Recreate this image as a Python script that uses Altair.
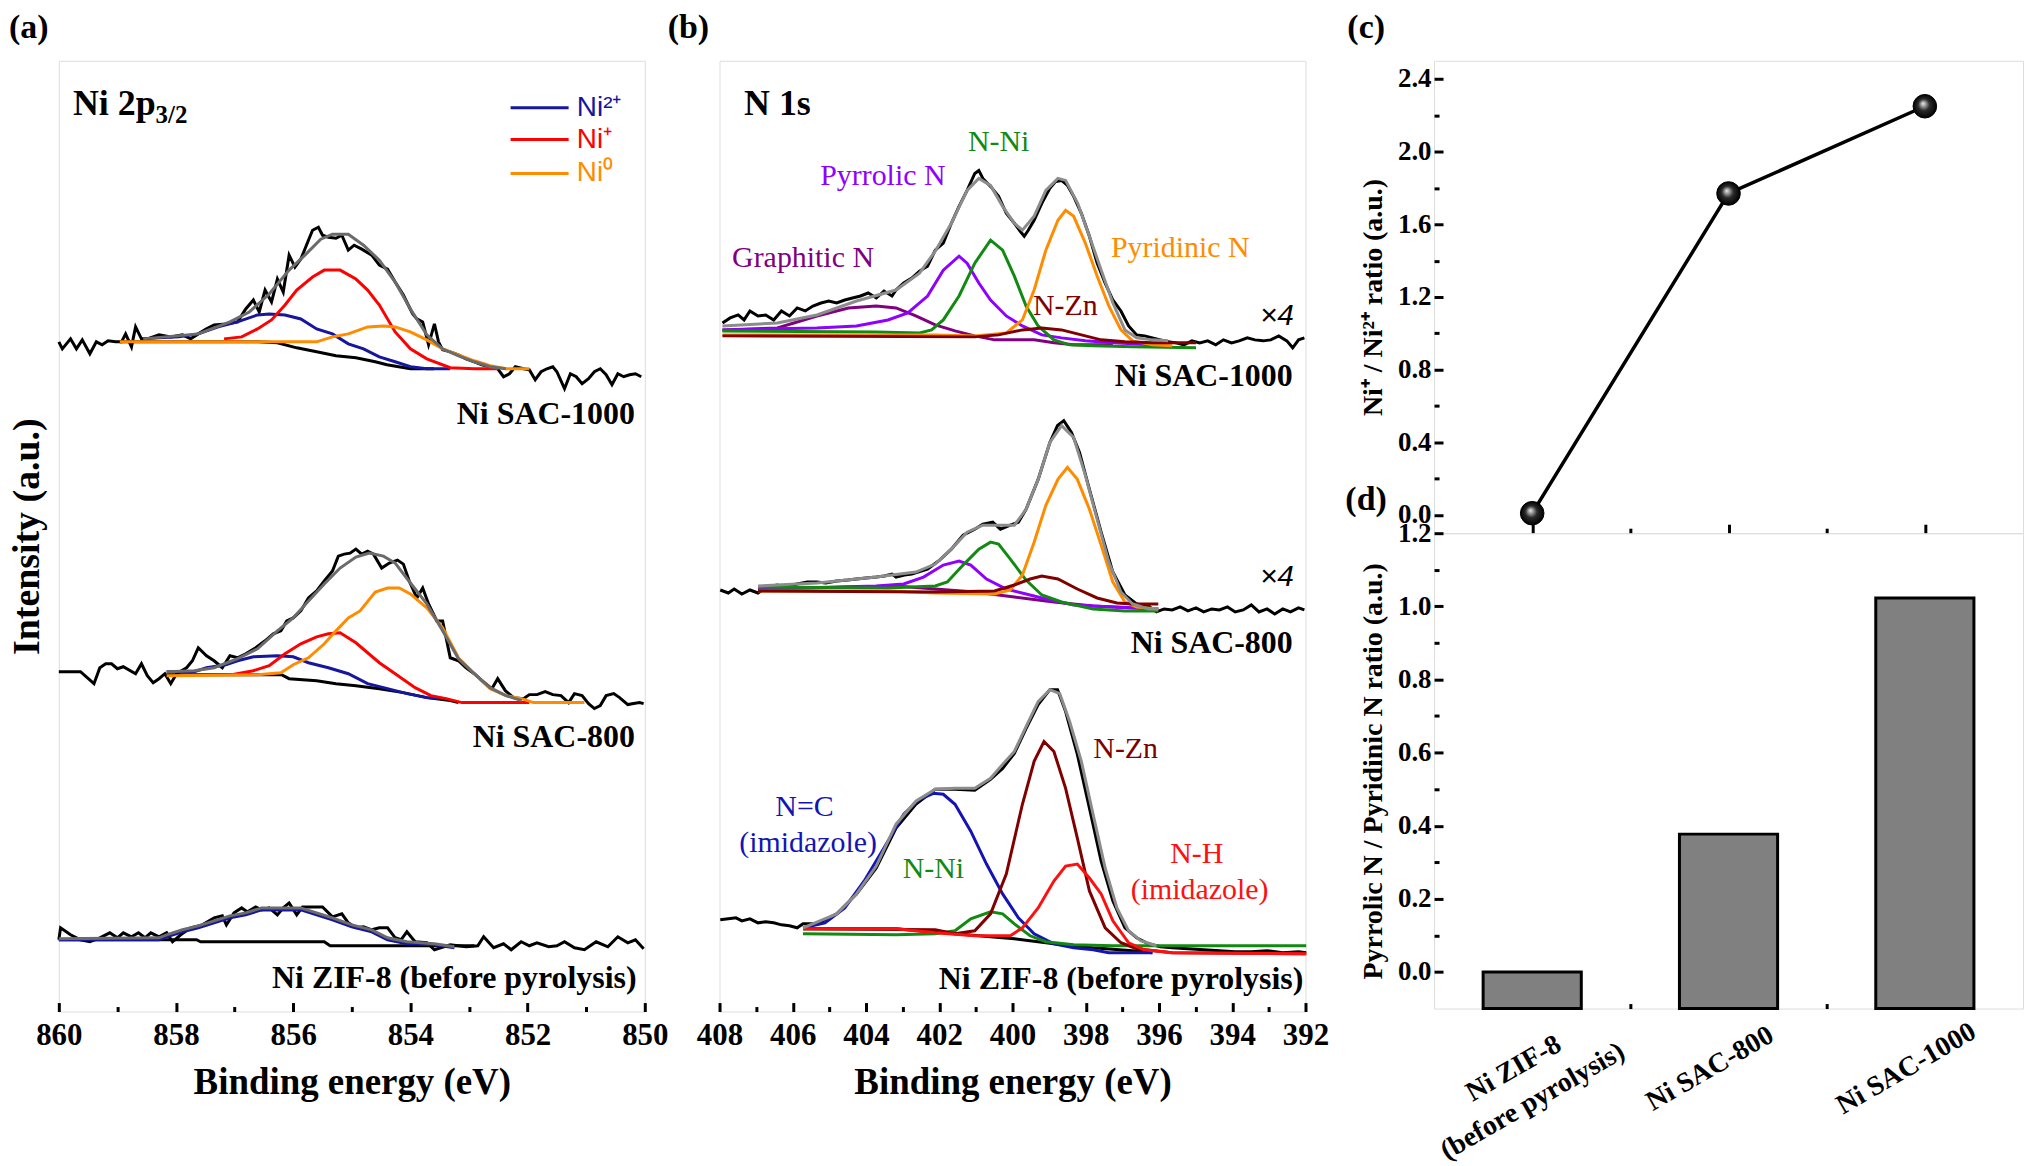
import json
import altair as alt
import pandas as pd

SERIF = "Liberation Serif"
SANS = "Liberation Sans"

# ---------------- Panel (a): Ni 2p3/2  (binding energy eV, intensity a.u.) ----------------
a1000_raw = [(860.0,672),(859.94,665),(859.80,675),(859.70,665),(859.60,674),(859.47,660),(859.36,672),(859.26,669),
             (859.16,673),(859.03,672),(858.93,672),(858.86,680),(858.76,667),(858.69,687),(858.59,675),(858.49,675),
             (858.29,679),(858.09,677),(857.89,679),(857.75,675),(857.62,680),(857.48,685),(857.35,689),(857.15,690),
             (856.95,692),(856.81,705),(856.68,714),(856.58,702),(856.48,724),(856.37,712),(856.27,735),(856.17,722),
             (856.07,759),(855.97,747),(855.87,755),(855.74,774),(855.67,784),(855.57,787),(855.50,779),(855.40,777),
             (855.27,776),(855.17,779),(855.06,764),(854.96,769),(854.83,765),(854.66,759),(854.53,749),(854.39,745),
             (854.26,732),(854.12,719),(854.02,707),(853.96,700),(853.89,695),(853.79,692),(853.69,669),(853.59,690),
             (853.52,672),(853.45,664),(853.32,662),(853.18,659),(853.05,655),(852.91,652),(852.78,649),(852.64,647),
             (852.51,645),(852.41,637),(852.31,640),(852.21,647),(852.07,645),(851.97,644),(851.87,634),(851.77,642),
             (851.67,645),(851.57,647),(851.50,642),(851.37,625),(851.27,640),(851.17,637),(851.07,630),(850.96,635),
             (850.86,642),(850.76,645),(850.66,639),(850.56,629),(850.46,640),(850.36,637),(850.26,639),(850.16,640),
             (850.06,637)]
a1000_bg = [(858.96,672),(856.6,672),(856.27,671),(855.94,666),(855.6,662),(855.27,658),(854.93,656),(854.6,652),
            (854.4,649),(854.0,645),(853.6,645)]
a1000_ni2 = [(858.56,675),(858.29,676),(857.95,677),(857.62,680),(857.28,687),(856.95,692),(856.61,699),(856.41,700),
             (856.14,699),(855.87,695),(855.6,685),(855.33,680),(855.06,670),(854.8,665),(854.53,657),(854.26,652),
             (854.0,647),(853.72,645),(853.32,645)]
a1000_ni1 = [(857.18,675),(856.88,677),(856.61,685),(856.37,694),(856.14,709),(855.94,724),(855.67,737),(855.47,744),
             (855.2,744),(854.93,735),(854.73,724),(854.53,709),(854.26,682),(854.0,665),(853.72,655),(853.32,646),
             (852.91,645),(852.5,645)]
a1000_ni0 = [(858.96,672),(855.6,672),(855.33,677),(855.06,680),(854.73,687),(854.46,688),(854.26,687),(854.0,682),
             (853.72,674),(853.45,665),(853.18,659),(852.91,653),(852.64,648),(852.37,645),(851.97,645)]
a1000_fit = [(858.56,675),(857.62,680),(857.08,692),(856.75,702),(856.41,720),(856.07,744),(855.8,759),(855.53,775),
             (855.33,780),(855.06,780),(854.8,769),(854.53,754),(854.26,732),(854.0,705),(853.72,679),(853.45,665),
             (853.18,658),(852.91,652),(852.64,647),(852.37,645)]

a800_raw = [(860.0,341),(859.63,341),(859.40,329),(859.30,345),(859.20,349),(859.10,349),(859.0,344),(858.9,346),
            (858.69,339),(858.59,349),(858.49,337),(858.39,330),(858.29,334),(858.19,339),(858.09,329),(857.99,339),
            (857.82,345),(857.72,352),(857.62,365),(857.48,357),(857.35,352),(857.21,345),(857.08,357),(856.95,355),
            (856.81,359),(856.64,365),(856.48,372),(856.34,379),(856.21,382),(856.11,392),(856.0,395),(855.87,402),
            (855.74,415),(855.60,422),(855.47,432),(855.33,442),(855.23,457),(855.13,459),(855.03,460),(854.93,464),
            (854.83,459),(854.73,462),(854.63,459),(854.49,445),(854.36,450),(854.22,453),(854.12,449),(854.02,432),
            (853.89,415),(853.79,425),(853.69,409),(853.55,392),(853.45,392),(853.32,355),(853.18,352),(853.05,345),
            (852.91,339),(852.78,332),(852.61,324),(852.51,334),(852.38,322),(852.24,315),(852.07,314),(851.97,318),
            (851.84,318),(851.70,321),(851.57,318),(851.43,317),(851.30,310),(851.2,319),(851.07,317),(850.96,309),
            (850.86,304),(850.76,307),(850.66,317),(850.53,319),(850.43,315),(850.29,308),(850.19,309),(850.09,310),
            (850.02,309)]
a800_bg = [(858.16,338),(856.2,338),(856.07,334),(855.6,332),(855.27,329),(854.93,327),(854.53,324),(854.12,320),
           (853.72,315),(853.32,312),(853.18,310)]
a800_ni2 = [(858.16,341),(857.69,341),(857.48,345),(857.15,348),(856.95,352),(856.68,356),(856.27,357),(856.0,356),
            (855.74,350),(855.4,345),(855.06,339),(854.73,329),(854.39,324),(854.06,319),(853.72,315),(853.52,314)]
a800_ni1 = [(857.05,338),(856.68,342),(856.41,347),(856.14,359),(855.87,369),(855.6,376),(855.4,379),(855.2,380),
            (854.93,370),(854.53,350),(854.26,339),(853.92,325),(853.65,317),(853.39,314),(853.12,310),(851.97,310)]
a800_ni0 = [(858.16,337),(856.61,338),(856.21,340),(856.0,348),(855.74,355),(855.47,369),(855.27,382),(855.06,395),
            (854.86,402),(854.6,421),(854.39,425),(854.19,425),(854.0,419),(853.72,405),(853.45,385),(853.18,355),
            (852.91,339),(852.64,324),(852.37,317),(852.1,314),(851.9,310),(851.03,310)]
a800_fit = [(858.16,341),(857.69,342),(857.35,345),(856.95,354),(856.61,364),(856.27,382),(856.0,395),(855.74,412),
            (855.47,429),(855.2,445),(854.93,456),(854.7,460),(854.46,457),(854.26,450),(854.0,430),(853.72,409),
            (853.45,382),(853.18,354),(852.91,339),(852.64,325),(852.37,317),(852.1,312)]

azif_raw = [(860.0,72),(859.97,84),(859.8,77),(859.63,72),(859.47,70),(859.3,74),(859.13,79),(859.0,74),(858.9,79),
            (858.76,75),(858.64,79),(858.53,74),(858.43,79),(858.29,75),(858.16,79),(858.06,70),(857.92,77),
            (857.75,84),(857.55,87),(857.35,94),(857.21,96),(857.14,87),(857.01,99),(856.88,104),(856.78,100),
            (856.64,105),(856.54,102),(856.41,104),(856.27,97),(856.17,104),(856.07,109),(855.94,97),(855.84,105),
            (855.67,105),(855.5,105),(855.33,95),(855.17,98),(855.06,89),(854.93,84),(854.8,85),(854.66,82),
            (854.53,84),(854.39,84),(854.26,74),(854.16,72),(854.06,80),(853.92,70),(853.72,69),(853.59,62),
            (853.32,67),(853.05,65),(852.85,66),(852.75,75),(852.58,64),(852.41,68),(852.28,62),(852.11,70),
            (851.97,66),(851.84,69),(851.64,65),(851.5,66),(851.37,70),(851.2,64),(851.03,62),(850.83,70),
            (850.63,65),(850.46,75),(850.29,69),(850.16,72),(850.02,63)]
azif_bg = [(860.0,72),(857.65,72),(857.58,70),(855.47,70),(855.37,66),(852.91,66)]
azif_ni2 = [(860.0,72),(858.29,72),(858.16,75),(857.89,80),(857.62,84),(857.35,89),(857.08,94),(856.81,97),
            (856.54,102),(856.27,102),(855.87,102),(855.6,97),(855.33,92),(855.0,85),(854.66,80),(854.39,72),
            (854.06,68),(853.59,67),(853.25,64)]
azif_fit = [(860.0,73),(858.29,74),(858.16,77),(857.89,82),(857.62,86),(857.35,91),(857.08,96),(856.81,99),
            (856.54,104),(856.27,104),(855.87,104),(855.6,99),(855.33,94),(855.0,87),(854.66,82),(854.39,74),
            (854.06,70),(853.59,68),(853.25,65)]

a_samples = ["Ni SAC-1000", "Ni SAC-800", "Ni ZIF-8 (before pyrolysis)"]
a_sample_ev = [850.17, 850.17, 850.14]
a_sample_I = [590, 265, 24]
a_legend_names = ["Ni2+", "Ni+", "Ni0"]
a_legend_text = ["Ni\u00b2\u207a", "Ni\u207a", "Ni\u2070"]
a_legend_ev = [852.29, 851.30, 851.16]   # line start, line end, text start
a_legend_I = [907, 875, 841]
a_ticks_major = [860, 858, 856, 854, 852, 850]
a_ticks_minor = [859, 857, 855, 853, 851]

# ---------------- Panel (b): N 1s ----------------
b1000_raw = [(407.92,691),(407.71,696),(407.49,699),(407.33,694),(407.17,703),(406.95,698),(406.74,699),(406.52,694),
             (406.31,703),(406.09,698),(405.88,706),(405.66,703),(405.45,708),(405.23,711),(405.02,713),(404.80,711),
             (404.58,714),(404.37,716),(404.15,718),(403.94,721),(403.72,716),(403.51,723),(403.29,718),(403.18,724),
             (402.97,731),(402.75,736),(402.54,743),(402.32,748),(402.11,764),(401.89,771),(401.67,791),(401.46,808),
             (401.24,824),(401.03,841),(400.92,844),(400.81,836),(400.60,828),(400.38,818),(400.17,801),(399.95,791),
             (399.79,783),(399.68,778),(399.57,784),(399.41,794),(399.20,811),(398.98,826),(398.82,833),(398.66,834),
             (398.50,829),(398.33,818),(398.12,801),(397.90,778),(397.69,751),(397.47,731),(397.26,714),(397.04,703),
             (396.83,688),(396.61,679),(396.39,678),(396.18,676),(395.96,674),(395.75,672),(395.53,671),(395.32,669),
             (395.10,673),(394.89,671),(394.67,673),(394.45,669),(394.24,674),(394.02,671),(393.81,673),(393.59,676),
             (393.38,674),(393.16,673),(392.95,674),(392.73,678),(392.51,673),(392.35,666),(392.19,674),(392.03,676)]
b1000_fit = [(407.92,688),(406.42,691),(405.34,699),(404.26,713),(403.18,724),(402.54,741),(402.11,763),(401.67,791),
             (401.24,824),(400.92,836),(400.6,829),(400.27,808),(399.95,791),(399.73,784),(399.41,798),(399.09,824),
             (398.76,836),(398.55,834),(398.22,811),(397.9,778),(397.58,744),(397.26,711),(396.93,684),(396.61,676),
             (396.18,674),(395.75,673)]
b1000_graph = [(407.92,684),(406.42,686),(405.34,698),(404.48,706),(403.72,708),(403.18,706),(402.64,698),(402.11,689),
               (401.57,683),(401.03,678),(400.49,674),(399.95,674),(399.41,674),(398.87,671),(398.33,669),(397.26,669)]
b1000_pyrr = [(407.92,684),(405.34,686),(404.26,688),(403.4,694),(402.86,701),(402.32,718),(401.89,744),(401.46,758),
              (401.24,751),(400.92,731),(400.6,714),(400.17,698),(399.73,688),(399.2,679),(398.66,676),(398.01,673),
              (397.26,671),(396.18,669)]
b1000_nni = [(407.92,683),(403.72,682),(402.54,681),(402.21,684),(401.89,694),(401.46,718),(401.03,751),(400.6,774),
             (400.27,764),(399.95,738),(399.63,708),(399.3,688),(398.87,674),(398.44,669),(397.8,668),(396.72,667),
             (394.99,666)]
b1000_pyrid = [(407.92,679),(402.11,679),(401.03,678),(400.17,681),(399.73,694),(399.41,724),(399.09,764),(398.76,794),
               (398.55,804),(398.33,798),(398.01,771),(397.69,738),(397.37,708),(397.04,684),(396.72,673),(396.18,669),
               (395.64,668)]
b1000_nzn = [(407.92,678),(401.03,677),(400.38,679),(399.73,684),(399.2,686),(398.66,684),(398.12,679),(397.58,674),
             (396.93,672),(396.18,671),(394.99,671)]

b800_raw = [(407.98,423),(407.76,420),(407.6,424),(407.39,419),(407.17,423),(406.95,420),(406.7,426),(406.42,428),
            (406.2,426),(405.88,429),(405.6,431),(405.34,431),(405.1,430),(404.8,432),(404.5,433),(404.26,434),
            (404.0,435),(403.72,436),(403.5,437),(403.29,439),(403.18,436),(402.95,438),(402.75,439),(402.32,444),
            (401.99,453),(401.67,464),(401.35,478),(401.03,484),(400.81,489),(400.54,491),(400.33,484),(400.06,488),
            (399.84,491),(399.63,504),(399.3,534),(398.98,571),(398.77,588),(398.6,593),(398.39,581),(398.17,561),
            (397.9,524),(397.58,481),(397.26,441),(396.93,418),(396.61,409),(396.29,407),(396.07,401),(395.86,404),
            (395.64,403),(395.42,406),(395.21,402),(394.99,405),(394.78,401),(394.56,404),(394.35,403),(394.13,406),
            (393.92,401),(393.7,403),(393.48,408),(393.27,401),(393.05,404),(392.84,399),(392.62,404),(392.41,401),
            (392.19,405),(392.03,403)]
b800_fit = [(406.95,427),(405.34,430),(403.72,436),(402.64,441),(402.11,449),(401.67,464),(401.24,481),(400.81,488),
            (400.38,488),(399.95,488),(399.63,504),(399.3,534),(398.98,571),(398.66,588),(398.33,576),(398.01,538),
            (397.69,494),(397.37,451),(397.04,421),(396.72,409),(396.29,404),(396.02,404)]
b800_graph = [(406.95,424),(403.18,427),(402.11,424),(401.03,421),(399.95,416),(398.87,411),(397.8,407),(396.02,404)]
b800_pyrr = [(406.95,424),(403.72,427),(402.97,429),(402.43,436),(401.89,448),(401.46,452),(401.14,448),(400.71,434),
             (400.17,424),(399.63,419),(399.09,414),(398.33,408),(397.26,406),(396.02,404)]
b800_nni = [(406.95,426),(403.4,425),(402.11,427),(401.78,431),(401.35,448),(400.92,464),(400.6,471),(400.38,469),
            (400.06,454),(399.63,433),(399.2,418),(398.66,411),(397.8,404),(396.93,402),(396.02,402)]
b800_pyrid = [(406.95,422),(403.4,422),(402.11,420),(400.49,419),(400.06,423),(399.73,438),(399.41,471),(399.09,508),
              (398.76,534),(398.5,546),(398.23,534),(397.9,504),(397.58,468),(397.26,431),(396.93,411),(396.61,406),
              (396.02,404)]
b800_nzn = [(406.95,422),(402.11,421),(400.49,422),(399.95,428),(399.52,434),(399.2,437),(398.76,434),(398.23,424),
            (397.69,415),(397.15,410),(396.72,409),(396.02,409)]

bzif_raw = [(407.98,92),(407.76,93),(407.55,94),(407.39,91),(407.17,93),(406.95,89),(406.74,90),(406.52,89),
            (406.31,87),(406.09,86),(405.88,84),(405.72,88),(405.34,88),(404.8,98),(404.26,118),(403.72,144),
            (403.18,184),(402.64,208),(402.11,223),(401.57,223),(401.03,222),(400.6,233),(400.27,244),(399.95,259),
            (399.63,284),(399.3,308),(398.98,323),(398.77,323),(398.55,301),(398.23,258),(397.9,204),(397.58,151),
            (397.26,111),(396.93,84),(396.61,74),(396.29,68),(395.96,65),(395.64,64),(395.21,63),(394.78,62),
            (394.35,61),(393.92,60),(393.48,60),(393.05,61),(392.62,59),(392.19,60),(391.98,59)]
bzif_bg = [(405.72,83),(403.18,83),(401.57,78),(399.95,73),(398.87,68),(397.8,64),(396.72,61),(396.18,59)]
bzif_fit = [(405.72,84),(404.8,98),(404.26,118),(403.72,146),(403.18,188),(402.64,211),(402.11,223),(401.57,224),
            (401.03,224),(400.6,234),(400.27,248),(399.95,261),(399.63,286),(399.3,311),(398.98,323),(398.71,319),
            (398.44,291),(398.12,251),(397.8,198),(397.47,144),(397.15,104),(396.83,81),(396.5,71),(396.07,66)]
bzif_nc = [(405.72,84),(405.12,89),(404.58,104),(404.05,131),(403.51,164),(402.97,198),(402.54,213),(402.16,219),
           (401.89,218),(401.57,208),(401.14,181),(400.71,148),(400.27,118),(399.84,94),(399.41,78),(398.87,68),
           (398.33,64),(397.8,62),(397.37,59),(396.18,59)]
bzif_nni = [(405.72,78),(403.18,77),(402.11,78),(401.57,81),(401.14,93),(400.6,100),(400.27,98),(399.95,88),
            (399.52,76),(399.09,70),(398.33,67),(397.26,66),(395.64,66),(391.98,66)]
bzif_nzn = [(405.72,83),(402.11,82),(401.57,78),(401.03,81),(400.6,98),(400.17,138),(399.73,208),(399.41,251),
            (399.14,271),(398.87,261),(398.55,224),(398.23,174),(397.9,121),(397.47,84),(397.04,69),(396.61,63),
            (395.64,59),(391.98,58)]
bzif_nh = [(405.72,83),(403.18,83),(402.11,79),(401.03,76),(400.06,76),(399.73,84),(399.3,104),(398.87,131),
           (398.55,146),(398.23,148),(397.9,134),(397.58,118),(397.26,91),(396.83,69),(396.4,62),(395.64,59),
           (391.98,58)]

b_peak_text = ["Graphitic N", "Pyrrolic N", "N-Ni", "Pyridinic N", "N-Zn",
               "N=C", "(imidazole)", "N-Ni", "N-Zn", "N-H", "(imidazole)"]
b_peak_comp = ["Graphitic", "Pyrrolic", "NNi", "Pyridinic", "NZn", "NC", "NC", "NNi", "NZn", "NH", "NH"]
b_peak_ev = [405.72, 403.54, 400.38, 395.42, 398.56, 405.68, 405.58, 402.16, 396.91, 394.97, 394.89]
b_peak_I = [747, 829, 864, 757, 699, 196, 160, 134, 254, 149, 113]
b_scale_text = ["\u00d74", "\u00d74"]
b_scale_ev = [392.78, 392.78]
b_scale_I = [689, 427]
b_samples = ["Ni SAC-1000", "Ni SAC-800", "Ni ZIF-8 (before pyrolysis)"]
b_sample_ev = [392.35, 392.35, 392.06]
b_sample_I = [628, 360, 23]
b_ticks_major = [408, 406, 404, 402, 400, 398, 396, 394, 392]
b_ticks_minor = [407, 405, 403, 401, 399, 397, 395, 393]

# ---------------- Panels (c) and (d) ----------------
categories = ["Ni ZIF-8\n(before pyrolysis)", "Ni SAC-800", "Ni SAC-1000"]
positions = [1, 2, 3]
ni_ratio = [0.01, 1.77, 2.25]          # Ni+ / Ni2+
pyr_ratio = [0.0, 0.377, 1.023]        # Pyrrolic N / Pyridinic N
c_ticks_major = [0.0, 0.4, 0.8, 1.2, 1.6, 2.0, 2.4]
c_ticks_minor = [0.2, 0.6, 1.0, 1.4, 1.8, 2.2]
d_ticks_major = [0.0, 0.2, 0.4, 0.6, 0.8, 1.0, 1.2]
d_ticks_minor = [0.1, 0.3, 0.5, 0.7, 0.9, 1.1]
x_minor = [1.5, 2.5]

# one colour scale for every panel (concatenated views share it)
COL = alt.Scale(
    domain=["raw", "fitA", "fitB", "Ni2+", "Ni+", "Ni0", "Graphitic", "Pyrrolic", "NNi", "Pyridinic",
            "NZn", "NC", "NH"],
    range=["#000000", "#6b6b6b", "#8c8c8c", "#16169e", "#ff0000", "#ff8c00", "#800080", "#8f00ff",
           "#128a12", "#ff8c00", "#800000", "#1414b4", "#ff1010"])


def curves(spec):
    rows = []
    for curve, comp, pts in spec:
        for i, (e, v) in enumerate(pts):
            rows.append({"eV": e, "I": v, "curve": curve, "comp": comp, "idx": i})
    return pd.DataFrame(rows)


def tick_axis(orient, values, size):
    return alt.Axis(values=values, labels=False, domain=False, ticks=True, tickSize=size,
                    tickWidth=3, tickColor="black", offset=-size, title=None, grid=False, orient=orient)


def label_axis_x(values, title):
    return alt.Axis(values=values, format="d", ticks=False, tickSize=0, domain=False, grid=False,
                    labelFont=SERIF, labelFontWeight="bold", labelFontSize=31, labelColor="black",
                    labelPadding=9, labelFlush=False, labelOverlap=False,
                    title=title, titleFont=SERIF, titleFontWeight="bold", titleFontSize=37,
                    titleColor="black", titlePadding=14, orient="bottom")


def xtick_layer(values, size, xs, ys, yd):
    return alt.Chart(pd.DataFrame({"t": values})).mark_point(opacity=0).encode(
        x=alt.X("t:Q", scale=xs, axis=tick_axis("bottom", values, size)),
        y=alt.YDatum(yd, scale=ys, axis=None))


def ytick_layer(values, size, xs, ys, xd):
    return alt.Chart(pd.DataFrame({"t": values})).mark_point(opacity=0).encode(
        y=alt.Y("t:Q", scale=ys, axis=tick_axis("left", values, size)),
        x=alt.XDatum(xd, scale=xs, axis=None))


def panel_title(text, dx, offset=16):
    return alt.TitleParams(text=text, anchor="start", frame="group", dx=dx, offset=offset,
                           fontSize=34, font=SERIF, fontWeight="bold", color="black")


def lines(df, xs, ys, sw=3):
    return alt.Chart(df).mark_line(strokeWidth=sw).encode(
        x=alt.X("eV:Q", scale=xs, axis=None), y=alt.Y("I:Q", scale=ys, axis=None),
        color=alt.Color("comp:N", scale=COL, legend=None), detail="curve:N", order="idx:Q")


def texts(ev, inten, txt, xs, ys, comp=None, **mk):
    d = {"eV": ev, "I": inten, "text": txt}
    enc = dict(x=alt.X("eV:Q", scale=xs, axis=None), y=alt.Y("I:Q", scale=ys, axis=None), text="text:N")
    if comp is not None:
        d["comp"] = comp
        enc["color"] = alt.Color("comp:N", scale=COL, legend=None)
    return alt.Chart(pd.DataFrame(d)).mark_text(**mk).encode(**enc)


# ================= Panel A =================
xsA = alt.Scale(domain=[860, 850], nice=False, zero=False)
ysA = alt.Scale(domain=[0, 954], nice=False, zero=False)

dfA_raw = curves([("r1000", "raw", a1000_raw), ("b1000", "raw", a1000_bg),
                  ("r800", "raw", a800_raw), ("b800", "raw", a800_bg),
                  ("rzif", "raw", azif_raw), ("bzif", "raw", azif_bg)])
dfA_comp = curves([("n2_1000", "Ni2+", a1000_ni2), ("n1_1000", "Ni+", a1000_ni1), ("n0_1000", "Ni0", a1000_ni0),
                   ("n2_800", "Ni2+", a800_ni2), ("n1_800", "Ni+", a800_ni1), ("n0_800", "Ni0", a800_ni0),
                   ("n2_zif", "Ni2+", azif_ni2)])
dfA_fit = curves([("f1000", "fitA", a1000_fit), ("f800", "fitA", a800_fit), ("fzif", "fitA", azif_fit)])

yaxisA = alt.Axis(labels=False, ticks=False, domain=False, grid=False, title="Intensity (a.u.)",
                  titleFont=SERIF, titleFontWeight="bold", titleFontSize=38, titleColor="black",
                  titlePadding=12, orient="left")

rawA = alt.Chart(dfA_raw).mark_line(strokeWidth=3).encode(
    x=alt.X("eV:Q", scale=xsA, axis=label_axis_x(a_ticks_major, "Binding energy (eV)")),
    y=alt.Y("I:Q", scale=ysA, axis=yaxisA),
    color=alt.Color("comp:N", scale=COL, legend=None),
    detail="curve:N", order="idx:Q")

samplesA = texts(a_sample_ev, a_sample_I, a_samples, xsA, ysA, font=SERIF, fontWeight="bold", fontSize=32,
                 align="right", baseline="alphabetic", color="black")
headA = texts([859.76], [900], ["Ni 2p"], xsA, ysA, font=SERIF, fontWeight="bold", fontSize=36,
              align="left", baseline="alphabetic", color="black")
subA = texts([858.35], [892], ["3/2"], xsA, ysA, font=SERIF, fontWeight="bold", fontSize=25,
             align="left", baseline="alphabetic", color="black")

legdf = pd.DataFrame({"x1": [a_legend_ev[0]] * 3, "x2": [a_legend_ev[1]] * 3, "I": a_legend_I,
                      "comp": a_legend_names})
legRules = alt.Chart(legdf).mark_rule(strokeWidth=3).encode(
    x=alt.X("x1:Q", scale=xsA, axis=None), x2="x2:Q", y=alt.Y("I:Q", scale=ysA, axis=None),
    color=alt.Color("comp:N", scale=COL, legend=None))
legText = texts([a_legend_ev[2]] * 3, a_legend_I, a_legend_text, xsA, ysA, comp=a_legend_names,
                font=SANS, fontSize=28, align="left", baseline="middle")

panelA = alt.layer(
    rawA, lines(dfA_comp, xsA, ysA), lines(dfA_fit, xsA, ysA),
    xtick_layer(a_ticks_major, 9, xsA, ysA, 500),
    xtick_layer(a_ticks_minor, 5, xsA, ysA, 500),
    samplesA, headA, subA, legRules, legText,
).resolve_axis(x="independent", y="independent").properties(
    width=588, height=954, title=panel_title("(a)", -50))

# ================= Panel B =================
xsB = alt.Scale(domain=[408, 392], nice=False, zero=False)
ysB = alt.Scale(domain=[0, 954], nice=False, zero=False)

dfB_raw = curves([("r1000", "raw", b1000_raw), ("r800", "raw", b800_raw),
                  ("rzif", "raw", bzif_raw), ("bzif", "raw", bzif_bg)])
dfB_comp = curves([("g1000", "Graphitic", b1000_graph), ("p1000", "Pyrrolic", b1000_pyrr),
                   ("n1000", "NNi", b1000_nni), ("d1000", "Pyridinic", b1000_pyrid), ("z1000", "NZn", b1000_nzn),
                   ("g800", "Graphitic", b800_graph), ("p800", "Pyrrolic", b800_pyrr),
                   ("n800", "NNi", b800_nni), ("d800", "Pyridinic", b800_pyrid), ("z800", "NZn", b800_nzn),
                   ("czif", "NC", bzif_nc), ("nzif", "NNi", bzif_nni), ("zzif", "NZn", bzif_nzn),
                   ("hzif", "NH", bzif_nh)])
dfB_fit = curves([("f1000", "fitB", b1000_fit), ("f800", "fitB", b800_fit), ("fzif", "fitB", bzif_fit)])

rawB = alt.Chart(dfB_raw).mark_line(strokeWidth=3).encode(
    x=alt.X("eV:Q", scale=xsB, axis=label_axis_x(b_ticks_major, "Binding energy (eV)")),
    y=alt.Y("I:Q", scale=ysB, axis=None),
    color=alt.Color("comp:N", scale=COL, legend=None),
    detail="curve:N", order="idx:Q")

peakB = texts(b_peak_ev, b_peak_I, b_peak_text, xsB, ysB, comp=b_peak_comp, font=SERIF, fontSize=30,
              align="center", baseline="alphabetic")
scaleB = texts(b_scale_ev, b_scale_I, b_scale_text, xsB, ysB, font=SANS, fontStyle="italic", fontSize=30,
               align="center", baseline="alphabetic", color="black")
samplesB = texts(b_sample_ev, b_sample_I, b_samples, xsB, ysB, font=SERIF, fontWeight="bold", fontSize=32,
                 align="right", baseline="alphabetic", color="black")
headB = texts([407.33], [900], ["N 1s"], xsB, ysB, font=SERIF, fontWeight="bold", fontSize=36,
              align="left", baseline="alphabetic", color="black")

panelB = alt.layer(
    rawB, lines(dfB_comp, xsB, ysB), lines(dfB_fit, xsB, ysB),
    xtick_layer(b_ticks_major, 9, xsB, ysB, 500),
    xtick_layer(b_ticks_minor, 5, xsB, ysB, 500),
    peakB, scaleB, samplesB, headB,
).resolve_axis(x="independent", y="independent").properties(
    width=588, height=954, title=panel_title("(b)", -52))

# ================= Panel C =================
xsC = alt.Scale(domain=[0.5, 3.5], nice=False, zero=False)
ysC = alt.Scale(domain=[-0.1, 2.5], nice=False, zero=False)
ysD = alt.Scale(domain=[-0.1, 1.2], nice=False, zero=False)


def ylabel_axis(values, title):
    return alt.Axis(values=values, format=".1f", ticks=False, tickSize=0, domain=False, grid=False,
                    labelFont=SERIF, labelFontWeight="bold", labelFontSize=27, labelColor="black",
                    labelPadding=3, labelFlush=False, labelOverlap=False,
                    title=title, titleFont=SERIF, titleFontWeight="bold", titleFontSize=28,
                    titleColor="black", titlePadding=10, orient="left")


dfC = pd.DataFrame({"pos": positions, "ratio": ni_ratio})
lineC = alt.Chart(dfC).mark_line(color="black", strokeWidth=3.5).encode(
    x=alt.X("pos:Q", scale=xsC, axis=None),
    y=alt.Y("ratio:Q", scale=ysC, axis=ylabel_axis(c_ticks_major, "Ni\u207a / Ni\u00b2\u207a ratio (a.u.)")))
ball = {"gradient": "radial", "x1": 0.42, "y1": 0.38, "r1": 0.0, "x2": 0.5, "y2": 0.5, "r2": 0.5,
        "stops": [{"offset": 0.0, "color": "#f2f2f2"}, {"offset": 0.18, "color": "#a8a8a8"},
                  {"offset": 0.5, "color": "#2a2a2a"}, {"offset": 1.0, "color": "#000000"}]}
ptsC = alt.Chart(dfC).mark_point(shape="circle", filled=True, fill=ball, size=560, opacity=1,
                                 stroke="black", strokeWidth=1).encode(
    x=alt.X("pos:Q", scale=xsC, axis=None), y=alt.Y("ratio:Q", scale=ysC, axis=None))

panelC = alt.layer(
    lineC, ptsC,
    ytick_layer(c_ticks_major, 9, xsC, ysC, 2),
    ytick_layer(c_ticks_minor, 5, xsC, ysC, 2),
    xtick_layer(positions, 9, xsC, ysC, 1),
    xtick_layer(x_minor, 5, xsC, ysC, 1),
).resolve_axis(x="independent", y="independent").properties(
    width=591, height=474, title=panel_title("(c)", -87))

# ================= Panel D =================
label_map = " : ".join(
    f"datum.value == {p} ? {json.dumps(c.split(chr(10)))}" for p, c in zip(positions, categories)) + " : ''"
xlabD = alt.Axis(values=positions, ticks=False, tickSize=0, domain=False, grid=False, labelExpr=label_map,
                 labelFont=SERIF, labelFontWeight="bold", labelFontSize=28, labelColor="black",
                 labelAngle=-30, labelAlign="center", labelBaseline="middle", labelPadding=60,
                 labelOffset=-19, labelLineHeight=38, labelLimit=0, labelFlush=False, labelOverlap=False,
                 title=None, orient="bottom")

dfD = pd.DataFrame({"pos": positions, "val": pyr_ratio})
barsD = alt.Chart(dfD).transform_calculate(lo="datum.pos - 0.25", hi="datum.pos + 0.25").mark_bar(
    fill="#808080", stroke="black", strokeWidth=3, opacity=1).encode(
    x=alt.X("lo:Q", scale=xsC, axis=xlabD), x2="hi:Q",
    y=alt.Y("val:Q", scale=ysD, axis=ylabel_axis(d_ticks_major, "Pyrrolic N / Pyridinic N ratio (a.u.)")),
    y2=alt.datum(-0.1))

panelD = alt.layer(
    barsD,
    ytick_layer(d_ticks_major, 9, xsC, ysD, 2),
    ytick_layer(d_ticks_minor, 5, xsC, ysD, 2),
    xtick_layer(positions, 9, xsC, ysD, 0.5),
    xtick_layer(x_minor, 5, xsC, ysD, 0.5),
).resolve_axis(x="independent", y="independent").properties(
    width=591, height=477, title=panel_title("(d)", -89, offset=2))


def spacer(w):
    return alt.Chart(pd.DataFrame({"s": [0]})).mark_point(opacity=0).encode(
        x=alt.X("s:Q", axis=None), y=alt.Y("s:Q", axis=None)).properties(
        width=w, height=954, view=alt.ViewBackground(strokeWidth=0, strokeOpacity=0))


right = alt.vconcat(panelC, panelD, spacing=0, bounds="flush")
chart = alt.hconcat(panelA, spacer(75), panelB, spacer(129), right, spacing=0, bounds="flush").properties(
    padding=0).configure_view(stroke="black", strokeWidth=3).configure(background="white", font=SERIF)

chart.save("out.html", embed_options={"renderer": "svg", "actions": False})
